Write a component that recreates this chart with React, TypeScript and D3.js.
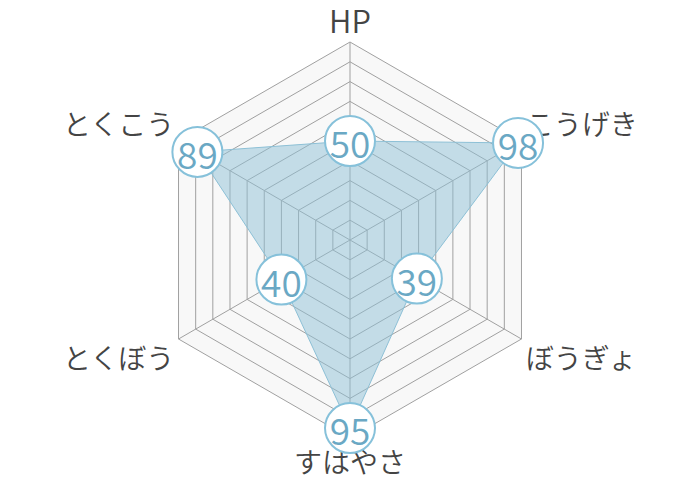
import React, { useEffect, useRef } from 'react';
import * as d3 from 'd3';

const statLabels = ['HP', 'こうげき', 'ぼうぎょ', 'すはやさ', 'とくぼう', 'とくこう'];
const statValues = [50, 98, 39, 95, 40, 89];
const gridSteps = [10, 20, 30, 40, 50, 60, 70, 80, 90, 100];
const maxValue = 100;

const App: React.FC = () => {
  const ref = useRef<SVGSVGElement | null>(null);

  useEffect(() => {
    const width = 700;
    const height = 480;
    const cx = 350;
    const cy = 240;
    const radius = 198;
    const font = "'Noto Sans CJK JP', 'Noto Sans', sans-serif";

    const svg = d3.select(ref.current);
    svg.selectAll('*').remove();
    svg.attr('width', width).attr('height', height);

    const r = d3.scaleLinear().domain([0, maxValue]).range([0, radius]);
    const n = statLabels.length;
    const angle = (i: number) => (Math.PI * 2 * i) / n - Math.PI / 2;
    const pt = (i: number, v: number): [number, number] => [
      cx + r(v) * Math.cos(angle(i)),
      cy + r(v) * Math.sin(angle(i)),
    ];

    const hexLine = d3.line<[number, number]>().curve(d3.curveLinearClosed);

    // background
    svg.append('path')
      .attr('d', hexLine(d3.range(n).map(i => pt(i, maxValue))))
      .attr('fill', '#f8f8f8');

    // grid rings
    gridSteps.forEach(s => {
      svg.append('path')
        .attr('d', hexLine(d3.range(n).map(i => pt(i, s))))
        .attr('fill', 'none')
        .attr('stroke', '#a0a0a0')
        .attr('stroke-width', 1);
    });

    // spokes
    d3.range(n).forEach(i => {
      const [x, y] = pt(i, maxValue);
      svg.append('line')
        .attr('x1', cx).attr('y1', cy)
        .attr('x2', x).attr('y2', y)
        .attr('stroke', '#a0a0a0')
        .attr('stroke-width', 1);
    });

    // data area
    svg.append('path')
      .attr('d', hexLine(statValues.map((v, i) => pt(i, v))))
      .attr('fill', 'rgba(141,192,214,0.5)')
      .attr('stroke', '#8dc0d6')
      .attr('stroke-width', 1);

    // axis labels
    const fs = 28;
    statLabels.forEach((label, i) => {
      const a = angle(i);
      const c = Math.cos(a);
      const s = Math.sin(a);
      const side = Math.abs(c) > 0.01;
      const d = radius + (side ? 5 : 10);
      const x = cx + d * c;
      const y = cy + d * s;
      const anchor = !side ? 'middle' : c > 0 ? 'start' : 'end';
      const yc = s < 0 ? y - fs / 2 + (side ? -2 : 1) : y + fs / 2 + (side ? 1 : -1);
      svg.append('text')
        .attr('x', x)
        .attr('y', yc)
        .attr('text-anchor', anchor)
        .attr('dominant-baseline', 'central')
        .attr('fill', '#444')
        .style('font-family', font)
        .style('font-weight', 350)
        .style('font-size', `${label === 'HP' ? 31 : fs}px`)
        .text(label);
    });

    // value bubbles
    statValues.forEach((v, i) => {
      const [x, y] = pt(i, v);
      svg.append('circle')
        .attr('cx', x).attr('cy', y)
        .attr('r', 25)
        .attr('fill', '#fff')
        .attr('stroke', '#86c1da')
        .attr('stroke-width', 2);
      svg.append('text')
        .attr('x', x)
        .attr('y', y + 1)
        .attr('text-anchor', 'middle')
        .attr('dominant-baseline', 'central')
        .attr('fill', '#6aa8c4')
        .style('font-family', font)
        .style('font-weight', 350)
        .style('font-size', '37px')
        .text(v);
    });
  }, []);

  return <svg ref={ref} style={{ position: 'absolute', left: 0, top: 0 }}></svg>;
};

export default App;
